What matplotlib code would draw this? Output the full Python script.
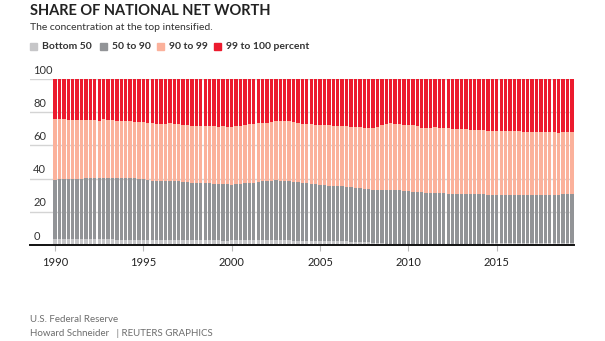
import matplotlib.pyplot as plt
import numpy as np

plt.rcParams['font.family'] = ['Lato', 'DejaVu Sans']

# quarterly, 1990 Q1 .. 2019 Q2
years = np.arange(1990, 2019.5, 0.25)

# share of the bottom 50 percent
bottom_50 = [3.7, 3.6, 3.6, 3.6, 3.6, 3.6, 3.5, 3.5, 3.5, 3.4, 3.4, 3.4,
             3.4, 3.4, 3.3, 3.3, 3.3, 3.3, 3.2, 3.3, 3.3, 3.2, 3.2, 3.2,
             3.2, 3.2, 3.1, 3.1, 3.1, 3.0, 3.0, 3.0, 3.0, 2.9, 2.9, 2.8,
             2.8, 2.8, 2.7, 2.7, 2.8, 2.8, 2.9, 2.9, 3.0, 3.0, 3.1, 3.0,
             3.0, 3.0, 3.1, 3.0, 2.9, 2.8, 2.7, 2.6, 2.5, 2.5, 2.4, 2.4,
             2.4, 2.3, 2.3, 2.3, 2.3, 2.2, 2.2, 2.1, 2.0, 1.9, 1.8, 1.6,
             1.5, 1.3, 1.1, 0.9, 0.7, 0.6, 0.6, 0.5, 0.5, 0.4, 0.4, 0.4,
             0.4, 0.4, 0.4, 0.4, 0.5, 0.5, 0.5, 0.6, 0.7, 0.8, 0.8, 0.9,
             0.9, 0.9, 1.0, 1.0, 1.0, 1.0, 1.1, 1.1, 1.1, 1.1, 1.2, 1.2,
             1.2, 1.2, 1.3, 1.3, 1.3, 1.3, 1.4, 1.4, 1.4, 1.5]

# share held by the bottom 90 percent (bottom 50 + 50 to 90)
bottom_90 = [39.3, 39.5, 39.6, 39.8, 39.8, 40.0, 40.0, 40.1, 40.3, 40.4, 40.6, 40.5,
             40.6, 40.4, 40.3, 40.3, 40.1, 40.1, 40.2, 39.9, 39.5, 39.2, 38.8, 38.5,
             38.6, 38.4, 38.3, 38.5, 38.3, 38.1, 37.8, 37.6, 37.3, 37.1, 37.2, 37.1,
             36.9, 36.8, 37.0, 36.6, 36.4, 36.5, 36.6, 37.1, 37.5, 37.6, 38.2, 38.4,
             38.6, 38.5, 38.9, 38.7, 38.8, 38.5, 38.2, 37.7, 37.4, 37.2, 37.0, 36.6,
             36.3, 36.0, 35.8, 35.6, 35.4, 35.3, 35.0, 34.8, 34.4, 34.1, 33.8, 33.5,
             33.3, 33.0, 33.2, 33.4, 33.3, 33.1, 32.9, 32.6, 32.3, 32.2, 31.9, 31.7,
             31.4, 31.5, 31.4, 31.3, 31.1, 30.9, 31.0, 30.9, 30.8, 30.7, 30.9, 30.7,
             30.6, 30.6, 30.4, 30.3, 30.2, 30.1, 30.0, 30.2, 30.1, 30.1, 30.0, 29.9,
             30.0, 30.0, 30.1, 30.2, 30.2, 30.1, 30.2, 30.6, 30.6, 30.5]

# share held by the bottom 99 percent
bottom_99 = [75.9, 76.0, 75.8, 75.6, 75.6, 75.3, 75.2, 75.4, 75.5, 75.1, 75.0, 75.8,
             75.6, 75.2, 74.8, 74.6, 74.5, 74.4, 74.3, 74.3, 74.0, 73.5, 73.2, 72.8,
             72.9, 73.0, 73.2, 73.1, 72.8, 72.5, 72.1, 71.8, 71.6, 71.4, 71.8, 71.6,
             71.4, 71.2, 71.5, 71.1, 71.0, 71.4, 71.8, 72.3, 72.8, 73.1, 73.6, 73.4,
             73.7, 73.9, 74.4, 74.5, 74.7, 74.4, 74.1, 73.5, 73.0, 72.8, 72.6, 72.3,
             72.2, 72.0, 72.1, 71.8, 71.7, 71.8, 71.5, 71.3, 71.1, 70.8, 70.6, 70.5,
             70.5, 71.0, 72.0, 72.8, 73.5, 73.1, 72.7, 72.2, 72.0, 72.3, 71.4, 70.6,
             70.4, 70.2, 70.8, 70.6, 70.3, 70.2, 70.0, 69.9, 69.7, 69.6, 69.3, 69.2,
             69.1, 69.0, 68.9, 68.8, 68.6, 68.5, 68.7, 68.5, 68.4, 68.4, 68.2, 68.3,
             68.1, 68.0, 67.9, 67.8, 67.8, 67.9, 67.7, 68.3, 68.1, 68.0]

labels = ["Bottom 50", "50 to 90", "90 to 99", "99 to 100 percent"]
colors = ["#c6c6c8", "#929497", "#fbb19b", "#ec1b2e"]
x_ticks = [1990, 1995, 2000, 2005, 2010, 2015]
y_ticks = [0, 20, 40, 60, 80, 100]

# split cumulative shares into the four groups
b50 = np.array(bottom_50)
b90 = np.array(bottom_90)
b99 = np.array(bottom_99)
shares = [b50, b90 - b50, b99 - b90, 100 - b99]

fig = plt.figure(figsize=(6.05, 3.41), dpi=100)
ax = fig.add_axes([30/605, 1-245/341, 544/605, 166/341])

base = np.zeros(len(years))
for s, c in zip(shares, colors):
    ax.bar(years, s, width=0.19, bottom=base, color=c, linewidth=0, zorder=2)
    base = base + s

ax.set_xlim(1988.585, 2019.37)
ax.set_ylim(0, 100)
for y in y_ticks:
    if y > 0:
        ax.axhline(y, color="#d4d4d4", lw=1, zorder=1)
    ax.annotate(str(y), (0.006, y), xycoords=("axes fraction", "data"),
                xytext=(0, 2.5), textcoords="offset points",
                ha="left", va="bottom", fontsize=8, color="#333333")

for side in ["left", "right", "top"]:
    ax.spines[side].set_visible(False)
ax.spines["bottom"].set_color("#111111")
ax.spines["bottom"].set_linewidth(1.4)
ax.spines["bottom"].set_zorder(3)
ax.set_yticks([])
ax.set_xticks(x_ticks)
ax.set_xticklabels([str(t) for t in x_ticks], fontsize=8, color="#222222")
ax.tick_params(axis="x", length=4, width=0.8, color="#bbbbbb", pad=5)

fig.text(30/605, 1-11/341, "SHARE OF NATIONAL NET WORTH", fontsize=10.5,
         fontweight="bold", color="#222222", va="center", ha="left")
fig.text(30/605, 1-27/341, "The concentration at the top intensified.",
         fontsize=7.5, color="#333333", va="center", ha="left")

# legend row
leg_x = [30, 100, 157, 214]
for lx, lab, c in zip(leg_x, labels, colors):
    fig.patches.append(plt.Rectangle((lx/605, 1-50/341), 7/605, 7/341,
                                     transform=fig.transFigure, color=c))
    fig.text((lx + 12)/605, 1-46.5/341, lab, fontsize=7.5, fontweight="bold",
             color="#333333", va="center", ha="left")

fig.text(30/605, 1-319/341, "U.S. Federal Reserve", fontsize=7,
         color="#6d6d6d", va="center", ha="left")
fig.text(30/605, 1-334/341, "Howard Schneider   | REUTERS GRAPHICS", fontsize=7,
         color="#6d6d6d", va="center", ha="left")

fig.savefig("out.png", dpi=100)
